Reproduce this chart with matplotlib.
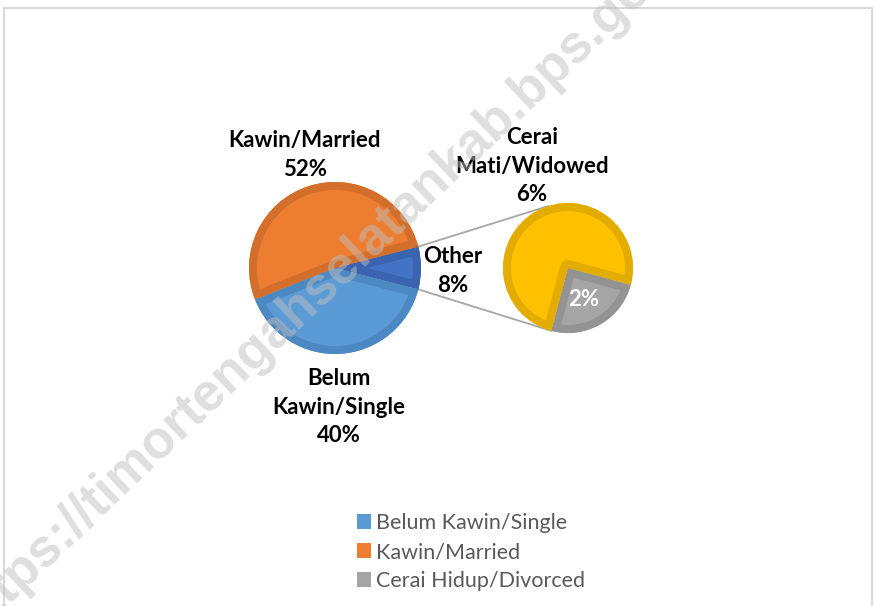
import numpy as np
import matplotlib.pyplot as plt
from matplotlib.patches import Rectangle

# data
main_labels = ['Other', 'Kawin/Married', 'Belum Kawin/Single']
main_values = [8, 52, 40]
main_colors = ['#4472C4', '#ED7D31', '#5B9BD5']
main_edges = ['#3A63B0', '#D36F2B', '#4C89C2']

sub_labels = ['Cerai Hidup/Divorced', 'Cerai Mati/Widowed']
sub_values = [2, 6]
sub_colors = ['#A5A5A5', '#FFC000']
sub_edges = ['#939393', '#E3AC00']

W, H = 874, 606
fig = plt.figure(figsize=(W / 100, H / 100), dpi=100)
ax = fig.add_axes([0, 0, 1, 1])

FONT = ['Lato', 'DejaVu Sans']

# chart border
ax.add_patch(Rectangle((4, -5), 868, 603, fill=False, edgecolor='#D9D9D9', lw=1.5))

c1, r1 = (335, 338), 86
c2, r2 = (568, 338), 65


def draw_pie(values, colors, edges, center, radius, start):
    wedges, _ = ax.pie(values, colors=colors, center=center, radius=radius,
                       startangle=start, counterclock=True, frame=True,
                       wedgeprops=dict(linewidth=0))
    # inner darker border like the office style
    for w, ec in zip(wedges, edges):
        w2 = ax.pie([1], center=center, radius=radius, frame=True)[0][0]
        w2.set_theta1(w.theta1)
        w2.set_theta2(w.theta2)
        w2.set_facecolor('none')
        w2.set_edgecolor(ec)
        w2.set_linewidth(11.5)
        w2.set_joinstyle('round')
        w2.set_clip_on(True)
        w2.set_clip_path(w)
    return wedges


other_span = main_values[0] / sum(main_values) * 360
mw = draw_pie(main_values, main_colors, main_edges, c1, r1, -other_span / 2)
sw = draw_pie(sub_values, sub_colors, sub_edges, c2, r2, -105)

ax.set_xlim(0, W)
ax.set_ylim(0, H)
ax.set_aspect('equal')
ax.axis('off')

# connector lines
a_main = np.radians(other_span / 2)
for s, a_sub in [(1, 108), (-1, -105)]:
    x0 = c1[0] + r1 * np.cos(a_main)
    y0 = c1[1] + s * r1 * np.sin(a_main)
    x1 = c2[0] + r2 * np.cos(np.radians(a_sub))
    y1 = c2[1] + r2 * np.sin(np.radians(a_sub))
    ax.plot([x0, x1], [y0, y1], color='#A6A6A6', lw=1.3, zorder=0.5)

lab = dict(ha='center', va='center', fontsize=16, fontweight='bold',
           color='black', family=FONT, linespacing=1.45)
ax.text(305, H - 155, 'Kawin/Married\n52%', **lab)
ax.text(532, H - 166, 'Cerai\nMati/Widowed\n6%', **lab)
ax.text(453, H - 271, 'Other\n8%', **lab)
ax.text(339, H - 407, 'Belum\nKawin/Single\n40%', **lab)
ax.text(584, H - 300, '2%', ha='center', va='center', fontsize=16,
        fontweight='bold', color='white', family=FONT)

# legend (Excel only lists these three)
leg = ax.legend([mw[2], mw[1], sw[0]],
                [main_labels[2], main_labels[1], sub_labels[0]],
                loc='upper left', bbox_to_anchor=(357 / W, 1 - 513 / H),
                frameon=False, prop=dict(family=FONT, size=15.5),
                handlelength=0.65, handleheight=0.65, handletextpad=0.25,
                labelspacing=0.42, borderpad=0, borderaxespad=0)
for t in leg.get_texts():
    t.set_color('#595959')

# watermark
ax.text(325, H - 282, 'https://timortengahselatankab.bps.go.id', rotation=43.5,
        rotation_mode='anchor', ha='center', va='center', fontsize=38,
        fontweight='bold', color='#BFBFBF', alpha=0.5,
        family=['Liberation Sans', 'DejaVu Sans'], zorder=5)

fig.savefig('out.png', dpi=100)
